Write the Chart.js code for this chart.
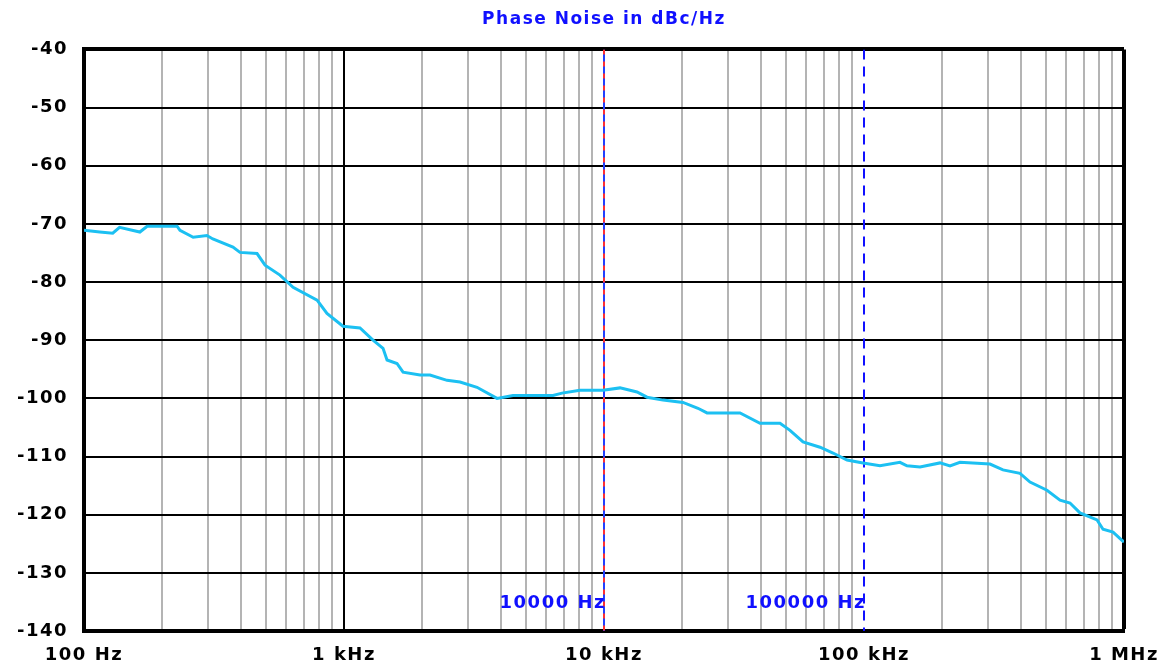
<!DOCTYPE html>
<html>
<head>
<meta charset="utf-8">
<title>Phase Noise</title>
<script src="https://cdn.jsdelivr.net/npm/chart.js@4/dist/chart.umd.min.js"></script>
<style>
  body { margin: 0; background: #fff; }
  canvas { display: block; }
</style>
</head>
<body>
<canvas id="grafica" width="1166" height="666"></canvas>
<script>
// datos
const frecuencias = [100, 115, 129, 137, 164, 175, 228, 234, 263, 297, 313, 374, 398, 463, 497, 567, 637, 788, 860,
  991, 1152, 1293, 1413, 1464, 1599, 1687, 1960, 2142, 2490, 2794, 3247, 3877, 4467, 6367, 6896, 8084, 9912,
  11520, 13395, 14639, 16865, 20130, 22982, 24900, 33360, 39810, 47530, 51930, 58280, 67730, 76000, 86040,
  99120, 115200, 137500, 146300, 164200, 196000, 214200, 233900, 305200, 342400, 398100, 435000, 505500,
  567400, 619800, 677300, 787600, 830500, 907300, 982500, 1000000];
const ruido = [-71.1, -71.4, -71.6, -70.6, -71.4, -70.4, -70.4, -71.1, -72.3, -72.0, -72.6, -74.0, -74.9, -75.1, -77.1,
  -78.8, -80.9, -83.1, -85.4, -87.6, -87.9, -90.0, -91.4, -93.4, -94.0, -95.5, -96.0, -96.0, -96.9, -97.2,
  -98.1, -100.0, -99.5, -99.5, -99.1, -98.6, -98.6, -98.2, -98.9, -99.8, -100.3, -100.7, -101.7, -102.5,
  -102.5, -104.3, -104.3, -105.5, -107.5, -108.4, -109.4, -110.6, -111.1, -111.6, -111.0, -111.6, -111.8,
  -111.1, -111.6, -111.0, -111.3, -112.3, -112.9, -114.4, -115.8, -117.5, -118.0, -119.7, -120.9, -122.5,
  -123.0, -124.4, -124.7];

const ticksX = [100, 200, 300, 400, 500, 600, 700, 800, 900,
  1000, 2000, 3000, 4000, 5000, 6000, 7000, 8000, 9000,
  10000, 20000, 30000, 40000, 50000, 60000, 70000, 80000, 90000,
  100000, 200000, 300000, 400000, 500000, 600000, 700000, 800000, 900000, 1000000];
const decadas = [100, 1000, 10000, 100000, 1000000];
const etiquetasX = ['100 Hz', '1 kHz', '10 kHz', '100 kHz', '1 MHz'];
const ticksY = [-40, -50, -60, -70, -80, -90, -100, -110, -120, -130, -140];
const etiquetasY = ['-40', '-50', '-60', '-70', '-80', '-90', '-100', '-110', '-120', '-130', '-140'];

const marcadores = [10000, 100000];
const etiquetasMarcadores = ['10000 Hz', '100000 Hz'];

const fuente = '"DejaVu Sans", sans-serif';

// espaciado entre letras, la fuente original es ancha
const espaciado = {
  id: 'espaciado',
  beforeLayout(chart) { chart.ctx.letterSpacing = '1.5px'; },
  beforeDraw(chart) { chart.ctx.letterSpacing = '1.5px'; }
};

// escribe los textos de los marcadores
const textoMarcadores = {
  id: 'textoMarcadores',
  afterDatasetsDraw(chart) {
    const ctx = chart.ctx;
    const x = chart.scales.x;
    const y = chart.scales.y;
    ctx.save();
    ctx.font = 'bold 18px ' + fuente;
    ctx.fillStyle = '#1010ff';
    ctx.textAlign = 'right';
    ctx.textBaseline = 'middle';
    marcadores.forEach((m, i) => {
      ctx.fillText(etiquetasMarcadores[i], x.getPixelForValue(m) + 2, y.getPixelForValue(-135.3));
    });
    ctx.restore();
  }
};

new Chart(document.getElementById('grafica'), {
  type: 'line',
  data: {
    datasets: [
      {
        data: frecuencias.map((f, i) => ({ x: f, y: ruido[i] })),
        borderColor: '#1cc0f2',
        borderWidth: 3,
        pointRadius: 0,
        tension: 0,
        order: 1
      },
      {
        // marcador 10 kHz, azul debajo
        data: [{ x: marcadores[0], y: -40 }, { x: marcadores[0], y: -140 }],
        borderColor: '#2040ff',
        borderWidth: 2,
        pointRadius: 0,
        order: 3
      },
      {
        // marcador 10 kHz, trazos rojos encima
        data: [{ x: marcadores[0], y: -40 }, { x: marcadores[0], y: -140 }],
        borderColor: '#ff3030',
        borderWidth: 2,
        borderDash: [5, 7],
        pointRadius: 0,
        order: 2
      },
      {
        // marcador 100 kHz
        data: [{ x: marcadores[1], y: -40 }, { x: marcadores[1], y: -140 }],
        borderColor: '#1010ff',
        borderWidth: 2,
        borderDash: [10, 7],
        pointRadius: 0,
        order: 2
      }
    ]
  },
  options: {
    responsive: false,
    animation: false,
    devicePixelRatio: 1,
    layout: { padding: { left: 0, right: 42, top: 0, bottom: 0 } },
    plugins: {
      legend: { display: false },
      tooltip: { enabled: false },
      title: {
        display: true,
        fullSize: false,
        text: 'Phase Noise in dBc/Hz',
        color: '#1010ff',
        font: { family: fuente, size: 17, weight: 'bold' },
        padding: { top: 9, bottom: 20 }
      }
    },
    scales: {
      x: {
        type: 'logarithmic',
        min: 100,
        max: 1000000,
        afterBuildTicks: (scale) => { scale.ticks = ticksX.map(v => ({ value: v })); },
        afterFit: (scale) => {
          scale.height = 35;
          scale.paddingLeft = 0;
          scale.paddingRight = 0;
        },
        grid: {
          drawTicks: false,
          // donde hay marcador no se dibuja la rejilla
          color: (c) => marcadores.includes(c.tick.value) ? 'rgba(0,0,0,0)'
            : decadas.includes(c.tick.value) ? '#000' : '#b4b4b4',
          lineWidth: (c) => c.tick.value === 1000000 ? 4 : 2
        },
        border: { color: '#000', width: 4 },
        ticks: {
          autoSkip: false,
          maxRotation: 0,
          padding: 14,
          color: '#000',
          font: { family: fuente, size: 18, weight: 'bold' },
          callback: (v) => {
            const i = decadas.indexOf(v);
            return i >= 0 ? etiquetasX[i] : '';
          }
        }
      },
      y: {
        min: -140,
        max: -40,
        afterBuildTicks: (scale) => { scale.ticks = ticksY.map(v => ({ value: v })); },
        afterFit: (scale) => { scale.width = 84; },
        grid: {
          drawTicks: false,
          color: '#000',
          lineWidth: (c) => c.tick.value === -40 ? 4 : 2
        },
        border: { color: '#000', width: 4 },
        ticks: {
          padding: 16,
          color: '#000',
          font: { family: fuente, size: 18, weight: 'bold' },
          callback: (v) => etiquetasY[ticksY.indexOf(v)]
        }
      }
    }
  },
  plugins: [espaciado, textoMarcadores]
});
</script>
</body>
</html>
